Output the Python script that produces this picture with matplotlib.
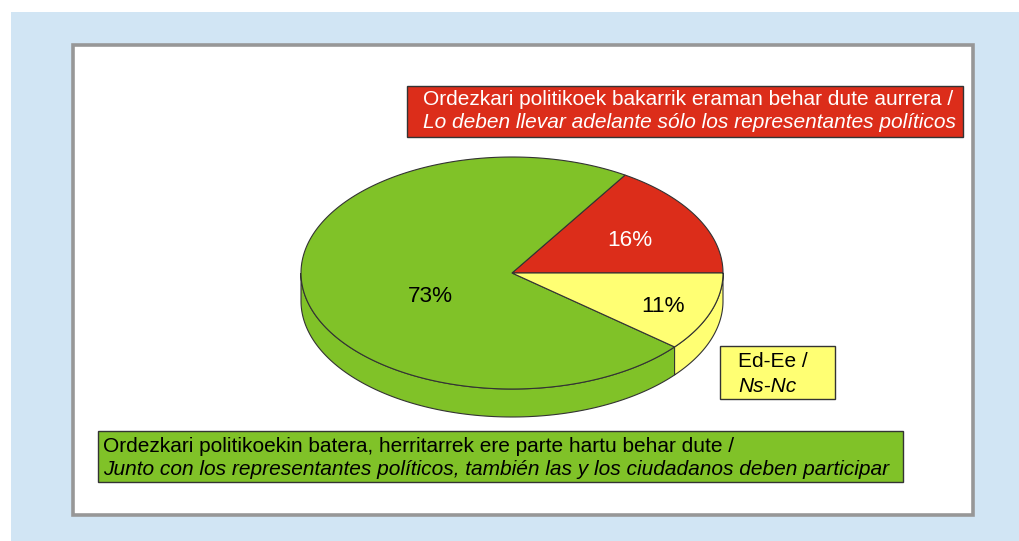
import numpy as np
import matplotlib
matplotlib.use("Agg")
import matplotlib.pyplot as plt
from matplotlib.patches import Rectangle, Polygon

plt.rcParams['font.family'] = ['Liberation Sans', 'DejaVu Sans']

# ---- data ----
categories_eu = ["Ordezkari politikoek bakarrik eraman behar dute aurrera /",
                 "Ordezkari politikoekin batera, herritarrek ere parte hartu behar dute /",
                 "Ed-Ee /"]
categories_es = ["Lo deben llevar adelante sólo los representantes políticos",
                 "Junto con los representantes políticos, también las y los ciudadanos deben participar",
                 "Ns-Nc"]
values = [16, 73, 11]          # counter-clockwise from 3 o'clock
colors = ["#dc2d1a", "#80c228", "#ffff73"]
label_colors = ["white", "black", "black"]
text_colors = ["white", "black", "black"]

# ---- layout (pixels) ----
W, H = 1019, 541
cx, cy, rx, ry, depth = 512, 273, 211, 116, 28
label_pos = [(630, 240), (430, 297), (663, 306)]
boxes = [(407, 86, 963, 137), (98, 431, 903, 482), (720, 346, 835, 399)]
text_x = [423, 103, 738]
base1 = [105, 452, 367]
base2 = [128, 475, 392]
edge = "#333333"

fig = plt.figure(figsize=(W / 100, H / 100), dpi=100)
ax = fig.add_axes([0, 0, 1, 1])
ax.set_xlim(0, W)
ax.set_ylim(H, 0)
ax.axis('off')

# background
ax.add_patch(Rectangle((11, 12), W - 11, H - 12, facecolor="#d1e5f4", edgecolor="none", zorder=0))
ax.add_patch(Rectangle((73, 45), 900, 470, facecolor="white", edgecolor="#979797", lw=2.6, zorder=1))


def ell(t, dy=0.0):
    t = np.asarray(t)
    return np.column_stack([cx + rx * np.cos(t), cy - ry * np.sin(t) + dy])


angles = np.concatenate([[0], np.cumsum(values)]) / sum(values) * 2 * np.pi
starts, ends = angles[:-1], angles[1:]

# sides (front half: pi .. 2pi)
for a, b, c in zip(starts, ends, colors):
    lo, hi = max(a, np.pi), min(b, 2 * np.pi)
    if hi <= lo:
        continue
    t = np.linspace(lo, hi, 120)
    pts = np.vstack([ell(t), ell(t[::-1], depth)])
    ax.add_patch(Polygon(pts, closed=True, facecolor=c, edgecolor=edge, lw=0.8, zorder=2))

# top faces
for a, b, c in zip(starts, ends, colors):
    t = np.linspace(a, b, 200)
    pts = np.vstack([[cx, cy], ell(t)])
    ax.add_patch(Polygon(pts, closed=True, facecolor=c, edgecolor=edge, lw=0.8, zorder=3))

# percentage labels
for v, (x, y), lc in zip(values, label_pos, label_colors):
    ax.text(x, y, f"{v}%", color=lc, fontsize=16.2, ha='center', va='center', zorder=5)

# legend-like boxes
for (x0, y0, x1, y1), c, tx, b1, b2, t1, t2, tc in zip(boxes, colors, text_x, base1, base2,
                                                     categories_eu, categories_es, text_colors):
    ax.add_patch(Rectangle((x0, y0), x1 - x0, y1 - y0, facecolor=c, edgecolor=edge, lw=1.0, zorder=4))
    ax.text(tx, b1, t1, color=tc, fontsize=15, ha='left', va='baseline', zorder=5)
    ax.text(tx, b2, t2, color=tc, fontsize=15, ha='left', va='baseline', style='italic', zorder=5)

fig.savefig("out.png", dpi=100)
